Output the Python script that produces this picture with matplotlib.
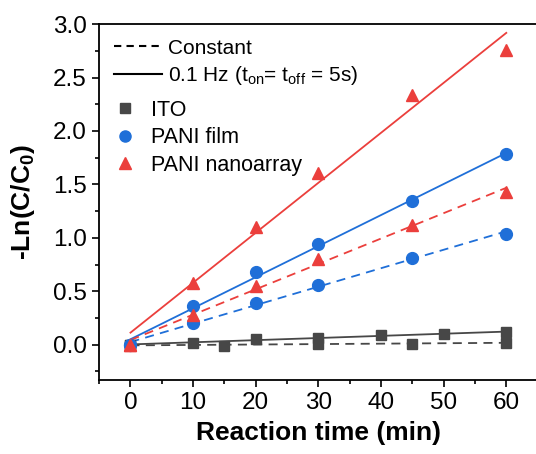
import numpy as np
import matplotlib
matplotlib.use('Agg')
import matplotlib.pyplot as plt
from matplotlib.lines import Line2D
from matplotlib.ticker import MultipleLocator

plt.rcParams['font.family'] = 'Liberation Sans'
plt.rcParams['mathtext.fontset'] = 'custom'
plt.rcParams['mathtext.rm'] = 'Liberation Sans'
plt.rcParams['mathtext.it'] = 'Liberation Sans:italic'
plt.rcParams['mathtext.bf'] = 'Liberation Sans:bold'

# ITO
ito_t_pulse = [0, 10, 20, 30, 40, 50, 60]
ito_pulse = [0.0, 0.02, 0.05, 0.06, 0.09, 0.10, 0.12]
ito_t_const = [0, 15, 30, 45, 60]
ito_const = [0.0, -0.01, 0.01, 0.01, 0.02]

# PANI film
film_t = [0, 10, 20, 30, 45, 60]
film_pulse = [0.0, 0.36, 0.68, 0.94, 1.34, 1.78]
film_const = [0.0, 0.20, 0.39, 0.56, 0.81, 1.04]

# PANI nanoarray
nano_t = [0, 10, 20, 30, 45, 60]
nano_pulse = [0.0, 0.58, 1.10, 1.61, 2.34, 2.76]
nano_const = [0.0, 0.28, 0.55, 0.80, 1.12, 1.43]

c_ito = '#474747'
c_film = '#1f6fd8'
c_nano = '#eb3f3c'

fig = plt.figure(figsize=(5.36, 4.54), dpi=100)
ax = fig.add_axes([0.185, 0.163, 0.818, 0.784])

xfit = np.array([0, 60])


def draw(t, y, color, marker, ms, ls):
    p = np.polyfit(t, y, 1)
    ax.plot(xfit, np.polyval(p, xfit), color=color, ls=ls, lw=1.3,
            dashes=(5, 3.5) if ls == '--' else (None, None), zorder=2)
    ax.plot(t, y, ls='none', marker=marker, ms=ms, color=color, zorder=3)


draw(ito_t_const, ito_const, c_ito, 's', 7.5, '--')
draw(ito_t_pulse, ito_pulse, c_ito, 's', 7.5, '-')
draw(film_t, film_const, c_film, 'o', 8.5, '--')
draw(film_t, film_pulse, c_film, 'o', 8.5, '-')
draw(nano_t, nano_const, c_nano, '^', 9, '--')
draw(nano_t, nano_pulse, c_nano, '^', 9, '-')

ax.set_xlim(-5, 65)
ax.set_ylim(-0.33, 3.0)
ax.xaxis.set_major_locator(MultipleLocator(10))
ax.xaxis.set_minor_locator(MultipleLocator(5))
ax.yaxis.set_major_locator(MultipleLocator(0.5))
ax.yaxis.set_minor_locator(MultipleLocator(0.25))
ax.yaxis.set_major_formatter(matplotlib.ticker.FormatStrFormatter('%.1f'))
ax.tick_params(which='both', direction='out', labelsize=17.5, width=1.2, top=False, right=False)
ax.tick_params(which='major', length=5, pad=4)
ax.tick_params(which='minor', length=3)
ax.spines['right'].set_visible(False)
for s in ['left', 'bottom', 'top']:
    ax.spines[s].set_linewidth(1.3)

ax.set_xlabel('Reaction time (min)', fontsize=19, fontweight='bold', labelpad=5)
ax.set_ylabel(r'-Ln(C/C$\mathbf{_0}$)', fontsize=19, fontweight='bold', labelpad=11)

h1 = [Line2D([], [], color='black', ls='--', lw=1.5, dashes=(3.5, 2.5)),
      Line2D([], [], color='black', ls='-', lw=1.5)]
leg1 = ax.legend(h1, ['Constant', r'0.1 Hz (t$_{\mathrm{on}}$= t$_{\mathrm{off}}$ = 5s)'],
                 loc='upper left', bbox_to_anchor=(0.0, 1.0), frameon=False,
                 fontsize=15, handlelength=2.3, handletextpad=0.3, labelspacing=0.3,
                 borderaxespad=0.3)
ax.add_artist(leg1)

h2 = [Line2D([], [], ls='none', marker='s', ms=7, color=c_ito),
      Line2D([], [], ls='none', marker='o', ms=8, color=c_film),
      Line2D([], [], ls='none', marker='^', ms=9, color=c_nano)]
ax.legend(h2, ['ITO', 'PANI film', 'PANI nanoarray'],
          loc='upper left', bbox_to_anchor=(0.0, 0.83), frameon=False,
          fontsize=15.5, handlelength=1.0, handletextpad=0.7, labelspacing=0.3,
          borderaxespad=0.3)

fig.savefig('out.png', dpi=100)
